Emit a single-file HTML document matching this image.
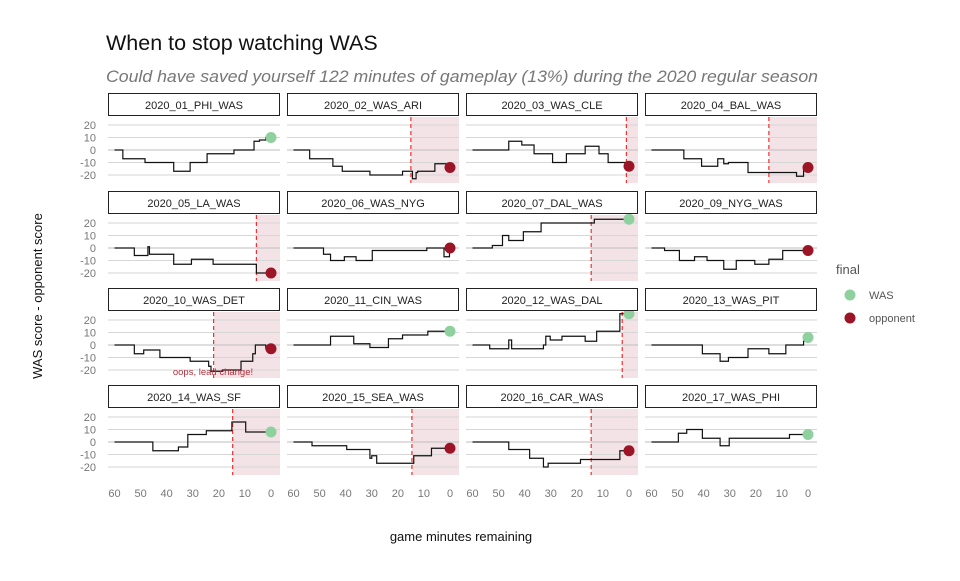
<!DOCTYPE html>
<html><head><meta charset="utf-8"><style>
body{margin:0;background:#fff;font-family:"Liberation Sans",sans-serif;}
svg text{font-family:"Liberation Sans",sans-serif;}
</style></head><body>
<svg id="chart" width="960" height="576" xmlns="http://www.w3.org/2000/svg">
<text x="106" y="50" font-size="21.5" fill="#111">When to stop watching WAS</text>
<text x="106" y="82" font-size="17" font-style="italic" fill="#777" textLength="712" lengthAdjust="spacingAndGlyphs">Could have saved yourself 122 minutes of gameplay (13%) during the 2020 regular season</text>
<text transform="translate(42,296) rotate(-90)" text-anchor="middle" font-size="13" fill="#111">WAS score - opponent score</text>
<text x="461" y="541" text-anchor="middle" font-size="13" fill="#111">game minutes remaining</text>
<g>
<text x="836" y="274" font-size="13" fill="#555">final</text>
<circle cx="850" cy="295" r="5.5" fill="#8fd19e"/>
<text x="869" y="299" font-size="11" fill="#555">WAS</text>
<circle cx="850" cy="318" r="5.5" fill="#9b1526"/>
<text x="869" y="322" font-size="11" fill="#555">opponent</text>
</g>
<g id="panels"></g>
</svg>
<script>
const games=["2020_01_PHI_WAS","2020_02_WAS_ARI","2020_03_WAS_CLE","2020_04_BAL_WAS","2020_05_LA_WAS","2020_06_WAS_NYG","2020_07_DAL_WAS","2020_09_NYG_WAS","2020_10_WAS_DET","2020_11_CIN_WAS","2020_12_WAS_DAL","2020_13_WAS_PIT","2020_14_WAS_SF","2020_15_SEA_WAS","2020_16_CAR_WAS","2020_17_WAS_PHI"];
const times=[
[60,56.8,48.3,37.3,31,24.5,14.2,6.5,4.4,2,0],
[60,53.8,44.9,41.3,30.7,18.2,14.4,13,12.4,5.8,0],
[60,46.1,41.1,36.4,29.3,24,16.8,11.5,8,1,0],
[60,47.6,40.8,34.6,32.3,30.5,23,4.4,1.7,0],
[60,52.4,47.2,46.6,44.4,37.3,30.5,22.2,5.6,0],
[60,48.5,45.8,40.5,36,29.8,8.9,2.3,0.2,0],
[60,52.4,48.5,46.1,40.5,33.7,13.3,0],
[60,55,49.3,43.5,38.7,32.3,27.5,20.4,15,9.7,0],
[60,52.4,48.8,42.6,31,23.9,23,18.6,11.5,7,6,2,0],
[60,45.8,36.9,30.7,23.6,18.2,8.5,0],
[60,53.4,46.1,45,37.3,32.8,31.9,30.2,25.7,16.8,12.4,3.5,0],
[60,40.5,33.7,30.5,23,15,8.5,1.7,0],
[60,45.3,35.5,31.9,24.8,15,9.7,0],
[60,52.9,39.6,30.7,30,28.1,13.9,7.1,0],
[60,46.1,38.1,32.8,31,18.6,3.5,0],
[60,49.7,46.5,40.5,33.7,30.2,7.1,0]];
const diffs=[
[0,-7,-10,-17,-10,-3,0,7,8,10,10],
[0,-7,-13,-17,-20,-17,-23,-18,-17,-11,-14],
[0,7,4,-3,-10,-3,3,-3,-10,-13,-13],
[0,-7,-13,-7,-11,-10,-18,-21,-14,-14],
[0,-6,1,-5,-5,-13,-9,-13,-20,-20],
[0,-5,-10,-7,-10,-2,0,-7,0,0],
[0,2,10,6,13,20,23,23],
[0,-2,-10,-7,-10,-17,-10,-13,-9,-2,-2],
[0,-7,-4,-10,-13,-17,-21,-20,-13,-7,0,-3,-3],
[0,7,1,-2,5,8,11,11],
[0,-3,4,-3,-3,0,7,4,7,3,11,25,25],
[0,-7,-13,-10,-3,-7,0,3,6],
[0,-7,-4,6,9,16,8,8],
[0,-3,-6,-13,-11,-17,-11,-5,-5],
[0,-6,-13,-20,-17,-14,-7,-7],
[0,7,10,3,-3,3,6,6]];
const cutoffs=[null,15,1,15,5.6,null,14.5,null,22,null,2.6,null,14.7,14.6,14.5,null];
const yTicks=[20,10,0,-10,-20];
const xTicks=[60,50,40,30,20,10,0];
const NS="http://www.w3.org/2000/svg";
const root=document.getElementById('panels');
function mk(tag,attrs,parent){const e=document.createElementNS(NS,tag);for(const k in attrs)e.setAttribute(k,attrs[k]);(parent||root).appendChild(e);return e;}
const colL=[108,287,466,645], rowT=[93,191,288,385], PW=172;
games.forEach((g,i)=>{
  const c=i%4,r=Math.floor(i/4);
  const L=colL[c], T=rowT[r];
  const zero=T+57, top=T+24, bot=T+90;
  const xs=t=>L+6.5+(60-t)*(156.5/60);
  const ys=v=>zero-v*1.25;
  const grp=mk('g',{});
  
  
  const cut=cutoffs[i];
  if(cut!==null){
    const sh=mk('rect',{x:xs(cut),y:top,width:L+PW-xs(cut),height:bot-top,fill:'#f3e3e6'},grp);
    
    
  }
  yTicks.forEach(v=>{
    const gl=mk('line',{x1:L,x2:L+PW,y1:ys(v),y2:ys(v),stroke:v===0?'#bdbdbd':'#d6d6d6','stroke-width':1},grp);
    
    
    if(c===0){
      const tl=mk('text',{x:96,y:ys(v)+4,'text-anchor':'end','font-size':11,fill:'#777'},grp);
      
      
      tl.textContent=v;
    }
  });
  if(cut!==null){
    const dl=mk('line',{x1:xs(cut),x2:xs(cut),y1:top,y2:bot,stroke:'#f03030','stroke-width':1.2,'stroke-dasharray':'4,3'},grp);
    
    
  }
  const ts=times[i], ds=diffs[i];
  let d='M'+xs(ts[0])+','+ys(ds[0]);
  for(let k=1;k<ts.length;k++){d+=' H'+xs(ts[k])+' V'+ys(ds[k]);}
  const p=mk('path',{d:d,fill:'none',stroke:'#111','stroke-width':1.2},grp);
  
  
  const fin=ds[ds.length-1];
  const dot=mk('circle',{cx:xs(0),cy:ys(fin),r:5.5,fill:fin>0?'#8fd19e':'#9b1526'},grp);
  
  
  const sr=mk('rect',{x:L+0.5,y:T+0.5,width:PW-1,height:22,fill:'#fff',stroke:'#222','stroke-width':1},grp);
  
  
  const st=mk('text',{x:L+PW/2,y:T+16,'text-anchor':'middle','font-size':11,fill:'#222'},grp);
  
  
  st.textContent=g;
  if(r===3){xTicks.forEach(t=>{
    const xl=mk('text',{x:xs(t),y:497,'text-anchor':'middle','font-size':11,fill:'#777'},grp);
    
    
    xl.textContent=t;
  });}
  if(i===8){
    const an=mk('text',{x:213,y:375,'text-anchor':'middle','font-size':9.5,fill:'#b0303c'},grp);
    
    
    an.textContent='oops, lead change!';
  }
});
</script>
</body></html>
